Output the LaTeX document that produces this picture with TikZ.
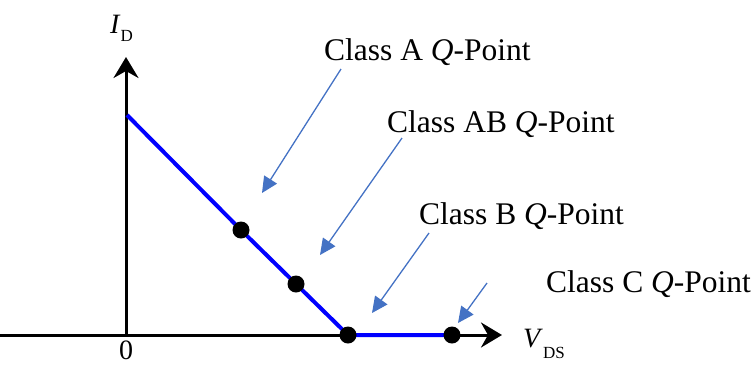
\documentclass[tikz,border=0pt]{standalone}
\usepackage{fontspec}
\setmainfont{Liberation Serif}
\usepackage{tikz}
\usetikzlibrary{arrows.meta,positioning}

\definecolor{loadblue}{RGB}{0,0,255}
\definecolor{callout}{RGB}{68,114,196}

\begin{document}
\begin{tikzpicture}[
  x=1pt, y=-1pt,
  font=\fontsize{31.5}{34}\selectfont,
  axis/.style={line width=3pt, -{Stealth[length=21pt,width=25pt,inset=7pt]}},
  loadline/.style={loadblue, line width=4pt, line join=round},
  qdot/.style={circle, fill=black, inner sep=0pt, minimum size=17pt},
  note/.style={anchor=base west, inner sep=0pt},
  pointer/.style={callout, line width=1.3pt, -{Triangle[length=16pt,width=15pt]}}
]
\useasboundingbox (0,0) rectangle (756,365);

\coordinate (origin) at (126,335);
\coordinate (xend) at (502,335);
\coordinate (yend) at (126,57);
\coordinate (xleft) at (0,335);
\coordinate (top) at (127,115);

\draw[axis] (xleft) -- (xend);
\draw[axis] (origin) -- (yend);

\node[anchor=north, inner sep=0pt] (zero) at (126,341) {\fontsize{28}{30}\selectfont 0};
\node[note] (ilabel) at (110,33) {\fontsize{28}{30}\selectfont\textit{I}\raisebox{-0.3em}{\fontsize{17}{20}\selectfont D}};
\node[note] (vlabel) at (523,347) {\fontsize{28}{30}\selectfont\textit{V}\raisebox{-0.42em}{\fontsize{17}{20}\selectfont DS}};

\coordinate (pa) at (241,230);
\coordinate (pab) at (296,284);
\coordinate (pb) at (348,335);
\coordinate (pc) at (452,335);

\draw[loadline] (top) -- (pa) -- (pab) -- (pb) -- (pc);
\node[qdot] (qa) at (pa) {};
\node[qdot] (qab) at (pab) {};
\node[qdot] (qb) at (pb) {};
\node[qdot] (qc) at (pc) {};

\node[note] (lblA) at (324,60) {Class A \textit{Q}-Point};
\node[note] (lblAB) at (387,132) {Class AB \textit{Q}-Point};
\node[note] (lblB) at (419,224) {Class B \textit{Q}-Point};
\node[note] (lblC) at (546,292) {Class C \textit{Q}-Point};

\coordinate (tailA) at (341,69);
\coordinate (tipA) at (262,193);
\coordinate (tailAB) at (402,138);
\coordinate (tipAB) at (320,255);
\coordinate (tailB) at (429,233);
\coordinate (tipB) at (372,313);
\coordinate (tailC) at (487,283);
\coordinate (tipC) at (458,323);

\draw[pointer] (tailA) -- (tipA);
\draw[pointer] (tailAB) -- (tipAB);
\draw[pointer] (tailB) -- (tipB);
\draw[pointer] (tailC) -- (tipC);
\end{tikzpicture}
\end{document}
